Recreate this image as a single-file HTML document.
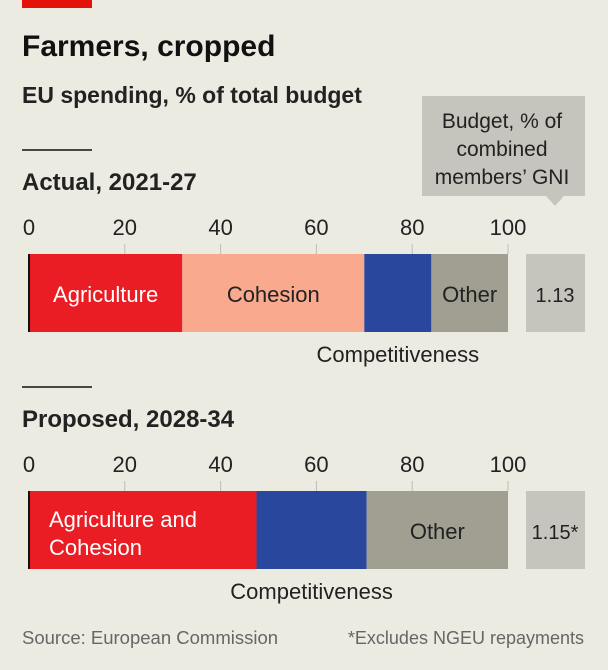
<!DOCTYPE html>
<html><head><meta charset="utf-8"><style>
body{margin:0;background:#ecebe2;font-family:"Liberation Sans",sans-serif;}
svg text{font-family:"Liberation Sans",sans-serif;}
</style></head><body>
<svg width="608" height="665">
<rect x="0" y="0" width="608" height="665" fill="#ecebe2"/>
<rect x="22" y="0" width="70" height="8" fill="#e3120b"/>
<text x="22" y="56" font-size="30" font-weight="bold" fill="#111">Farmers, cropped</text>
<text x="22" y="103" font-size="23" font-weight="bold" fill="#222">EU spending, % of total budget</text>
<g>
<rect x="422" y="96" width="163" height="100" fill="#c5c5bd"/>
<polygon points="546,196 564,196 555,206" fill="#c5c5bd"/>
<text x="502" y="128" font-size="21" text-anchor="middle" fill="#222">Budget, % of</text>
<text x="502" y="156" font-size="21" text-anchor="middle" fill="#222">combined</text>
<text x="502" y="184" font-size="21" text-anchor="middle" fill="#222">members’ GNI</text>
</g>
<g id="g"></g>
<text x="22" y="644" font-size="18.5" fill="#666">Source: European Commission</text>
<text x="584" y="644" font-size="18" fill="#666" text-anchor="end">*Excludes NGEU repayments</text>
</svg>
<script>
const ticks=[0,20,40,60,80,100];
const panels=["Actual, 2021-27","Proposed, 2028-34"];
const actualValues=[32,38,14,16];
const actualLabels=["Agriculture","Cohesion","","Other"];
const proposedValues=[47.5,23,29.5];
const proposedLabels=["Agriculture and|Cohesion","","Other"];
const actualColors=["#ea1c24","#f8a98e","#29479c","#a09f92"];
const proposedColors=["#ea1c24","#29479c","#a09f92"];
const gni=["1.13","1.15*"];
const x=v=>29+v*4.79;
const ns="http://www.w3.org/2000/svg";
const g=document.getElementById('g');
function el(t,a,txt){const e=document.createElementNS(ns,t);for(const k in a)e.setAttribute(k,a[k]);if(txt!=null)e.textContent=txt;g.appendChild(e);return e;}
const specs=[{top:150,vals:actualValues,labs:actualLabels,cols:actualColors},{top:387,vals:proposedValues,labs:proposedLabels,cols:proposedColors}];
specs.forEach((s,p)=>{
 const t=s.top;
 let e=el('line',{x1:22,x2:92,y1:t,y2:t,stroke:'#111','stroke-width':1.5});
 
 
 e=el('text',{x:22,y:t+40,'font-size':24,'font-weight':'bold',fill:'#222'},panels[p]);
 
 
 const by=t+104,bh=78;
 ticks.forEach(v=>{
  e=el('text',{x:x(v),y:t+85,'font-size':22,'text-anchor':'middle',fill:'#222'},String(v));
  
  
  if(v>0){e=el('line',{x1:x(v),x2:x(v),y1:by-10,y2:by,stroke:'#bbb','stroke-width':1});
  
  }
 });
 let c=0;
 s.vals.forEach((v,i)=>{
  e=el('rect',{x:x(c),y:by,width:x(c+v)-x(c),height:bh,fill:s.cols[i]});
  
  
  const lab=s.labs[i];
  if(lab){
   const lines=lab.split('|');
   const white=i===0;
   lines.forEach((ln,j)=>{
    const tx=lines.length>1?x(c)+20:(x(c)+x(c+v))/2;
    const ty=lines.length>1?by+36+j*28:by+48;
    e=el('text',{x:tx,y:ty,'font-size':22,'text-anchor':lines.length>1?'start':'middle',fill:white?'#fff':'#222'},ln);
    
    
   });
  }
  c+=v;
 });
 e=el('line',{x1:x(0),x2:x(0),y1:by,y2:by+bh,stroke:'#111','stroke-width':2});
 
 
 const compStart=p===0?s.vals[0]+s.vals[1]:s.vals[0];
 const compW=p===0?s.vals[2]:s.vals[1];
 e=el('text',{x:x(compStart+compW/2),y:by+bh+30,'font-size':22,'text-anchor':'middle',fill:'#222'},'Competitiveness');
 
 
 e=el('rect',{x:526,y:by,width:59,height:bh,fill:'#c5c5bd'});
 
 
 e=el('text',{x:555,y:by+48,'font-size':20,'text-anchor':'middle',fill:'#222'},gni[p]);
 
 
});
</script>
</body></html>
